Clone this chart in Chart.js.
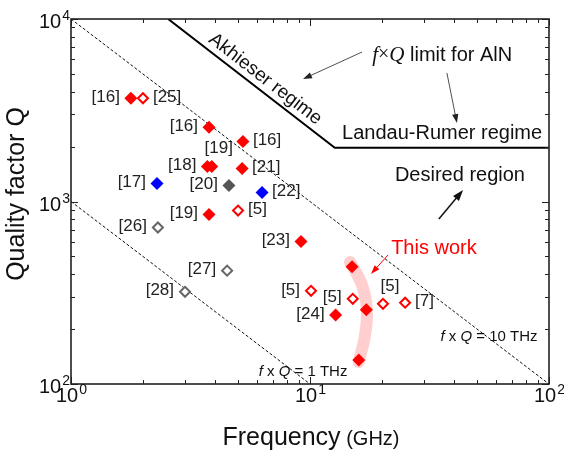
<!DOCTYPE html>
<html>
<head>
<meta charset="utf-8">
<script src="https://cdn.jsdelivr.net/npm/chart.js@4.4.1/dist/chart.umd.min.js"></script>
<style>
  body { margin: 0; background: #fff; }
</style>
</head>
<body>
<canvas id="qf" width="564" height="450"></canvas>
<script>
// ---- data (frequency in GHz, quality factor Q) ----
var redFreq = [1.78, 3.78, 5.24, 3.72, 3.88, 5.2, 3.78, 9.17, 12.8];
var redQ = [3680, 2550, 2130, 1557, 1557, 1518, 849, 603, 239];
var redRefs = ["[16]", "[16]", "[16]", "[18]", "[19]", "[21]", "[19]", "[23]", "[24]"];
var redSide = ["l", "l", "r", "l", "a", "r", "l", "l", "l"];

var openRedFreq = [2.0, 5.0, 10.1, 15.1, 20.2, 25.0];
var openRedQ = [3680, 892, 324, 293, 275, 279];
var openRedRefs = ["[25]", "[5]", "[5]", "[5]", "[5]", "[7]"];
var openRedSide = ["r", "r", "l", "l", "a", "r"];

var grayFreq = [4.58];
var grayQ = [1224];
var grayRefs = ["[20]"];
var graySide = ["l"];

var openGrayFreq = [2.31, 4.5, 3.0];
var openGrayQ = [720, 418, 320];
var openGrayRefs = ["[26]", "[27]", "[28]"];
var openGraySide = ["l", "l", "l"];

var blueFreq = [2.29, 6.3];
var blueQ = [1256, 1120];
var blueRefs = ["[17]", "[22]"];
var blueSide = ["l", "r"];

var thisWorkFreq = [15.0, 17.2, 16.0];
var thisWorkQ = [439, 255, 135.5];

// highlight band behind "this work"
var bandFreq = [14.7, 16.5, 17.3, 17.0, 16.0];
var bandQ = [466, 349, 254, 186, 132];

// f x Q guide lines and the AlN limit
var fq10Freq = [1, 100];
var fq10Q = [10000, 100];
var fq1Freq = [1, 10];
var fq1Q = [1000, 100];
var limitFreq = [2.55, 12.7, 100];
var limitQ = [10000, 1970, 1970];

var xDecades = [1, 10, 100];
var xTickLabels = ["0", "1", "2"];
var yDecades = [100, 1000, 10000];
var yTickLabels = ["2", "3", "4"];

function pts(fx, qy) {
    return fx.map(function(f, i) { return { x: f, y: qy[i] }; });
}

var RED = "#ff0000";
var GRAY = "#555555";
var BLUE = "#0000ff";
var ARIAL = "Arial, 'Liberation Sans', sans-serif";
var SERIF = "'Times New Roman', 'Liberation Serif', serif";

// label sides: l = left of marker, r = right, a = above
function drawRefLabels(chart) {
    var ctx = chart.ctx;
    ctx.save();
    ctx.font = "17px " + ARIAL;
    ctx.fillStyle = "#222";
    ctx.textBaseline = "middle";
    chart.data.datasets.forEach(function(ds, di) {
        if (!ds.refs) return;
        var meta = chart.getDatasetMeta(di);
        meta.data.forEach(function(el, i) {
            var side = ds.side[i];
            if (side === "l") {
                ctx.textAlign = "right";
                ctx.fillText(ds.refs[i], el.x - 11, el.y - 1);
            } else if (side === "r") {
                ctx.textAlign = "left";
                ctx.fillText(ds.refs[i], el.x + 10, el.y - 1);
            } else {
                ctx.textAlign = "center";
                ctx.fillText(ds.refs[i], el.x + 7, el.y - 18);
            }
        });
    });
    ctx.restore();
}

function drawRuns(ctx, runs, x, y, align) {
    var total = 0;
    runs.forEach(function(r) { ctx.font = r.font; r.w = ctx.measureText(r.text).width; total += r.w; });
    var cx = align === "center" ? x - total / 2 : x;
    ctx.textAlign = "left";
    runs.forEach(function(r) {
        ctx.font = r.font;
        ctx.fillStyle = r.color || "#111";
        ctx.fillText(r.text, cx, y);
        cx += r.w;
    });
}

function arrow(ctx, x1, y1, x2, y2, color, lw, head) {
    var a = Math.atan2(y2 - y1, x2 - x1);
    var c = Math.cos(a), s = Math.sin(a);
    ctx.save();
    ctx.strokeStyle = color;
    ctx.fillStyle = color;
    ctx.lineWidth = lw;
    ctx.beginPath();
    ctx.moveTo(x1, y1);
    ctx.lineTo(x2 - c * head * 0.8, y2 - s * head * 0.8);
    ctx.stroke();
    ctx.beginPath();
    ctx.moveTo(x2, y2);
    ctx.lineTo(x2 - head * c + head * 0.35 * s, y2 - head * s - head * 0.35 * c);
    ctx.lineTo(x2 - head * c - head * 0.35 * s, y2 - head * s + head * 0.35 * c);
    ctx.closePath();
    ctx.fill();
    ctx.restore();
}

// 10 with a raised exponent
function paintPow(ctx, exp, x, y, align) {
    ctx.font = "20px " + ARIAL;
    var wb = ctx.measureText("10").width;
    ctx.font = "14px " + ARIAL;
    var we = ctx.measureText(exp).width;
    var left = align === "center" ? x - (wb + we) / 2 : x - wb - we;
    ctx.textAlign = "left";
    ctx.font = "20px " + ARIAL;
    ctx.fillText("10", left, y);
    ctx.font = "14px " + ARIAL;
    ctx.fillText(exp, left + wb + 1, y - 8);
}

var annotations = {
    id: "annotations",
    afterDatasetsDraw: function(chart) {
        var ctx = chart.ctx;
        var xs = chart.scales.x, ys = chart.scales.y;
        function X(v) { return xs.getPixelForValue(v); }
        function Y(v) { return ys.getPixelForValue(v); }

        drawRefLabels(chart);

        ctx.save();
        ctx.textBaseline = "middle";

        // Akhieser regime, along the limit line
        var ang = Math.atan2(Y(limitQ[1]) - Y(limitQ[0]), X(limitFreq[1]) - X(limitFreq[0]));
        ctx.save();
        ctx.translate(X(6.35), Y(4500));
        ctx.rotate(ang);
        ctx.font = "19px " + ARIAL;
        ctx.fillStyle = "#111";
        ctx.textAlign = "center";
        ctx.fillText("Akhieser regime", 0, -4);
        ctx.restore();

        drawRuns(ctx, [
            { text: "f", font: "italic 21px " + SERIF },
            { text: "\u00d7", font: "20px " + SERIF },
            { text: "Q", font: "italic 21px " + SERIF },
            { text: " limit for AlN", font: "20px " + ARIAL }
        ], X(18.2), Y(6350), "left");
        arrow(ctx, X(16.5), Y(6590), X(9.35), Y(4690), "#222", 0.8, 9);
        arrow(ctx, X(37.4), Y(5060), X(41.2), Y(2690), "#222", 0.8, 9);

        ctx.font = "20px " + ARIAL;
        ctx.fillStyle = "#111";
        ctx.textAlign = "center";
        ctx.fillText("Landau-Rumer regime", X(35.7), Y(2373));
        ctx.fillText("Desired region", X(42.4), Y(1380));
        arrow(ctx, X(34.6), Y(802), X(43.7), Y(1156), "#111", 1.5, 11);

        ctx.fillStyle = RED;
        ctx.fillText("This work", X(33.0), Y(556));
        arrow(ctx, X(21.2), Y(509), X(18.0), Y(401), RED, 1, 9);

        drawRuns(ctx, [
            { text: "f", font: "italic 15px " + ARIAL },
            { text: " x ", font: "15px " + ARIAL },
            { text: "Q", font: "italic 15px " + ARIAL },
            { text: " = 10 THz", font: "15px " + ARIAL }
        ], X(56.1), Y(181), "center");
        drawRuns(ctx, [
            { text: "f", font: "italic 15px " + ARIAL },
            { text: " x ", font: "15px " + ARIAL },
            { text: "Q", font: "italic 15px " + ARIAL },
            { text: " = 1 THz", font: "15px " + ARIAL }
        ], X(9.35), Y(116.4), "center");
        ctx.restore();
    }
};

var frame = {
    id: "frame",
    afterDraw: function(chart) {
        var ctx = chart.ctx;
        var a = chart.chartArea;
        var xs = chart.scales.x, ys = chart.scales.y;
        ctx.save();
        ctx.strokeStyle = "#222";
        ctx.lineWidth = 1;
        // minor/major ticks, inward, on all four sides
        function eachTick(min, max, fn) {
            for (var d = min; d < max; d *= 10) {
                for (var m = 1; m < 10; m++) fn(d * m, m === 1);
            }
            fn(max, true);
        }
        ctx.beginPath();
        eachTick(1, 100, function(v, major) {
            var px = Math.round(xs.getPixelForValue(v)) + 0.5, len = major ? 7 : 4;
            ctx.moveTo(px, a.bottom); ctx.lineTo(px, a.bottom - len);
            ctx.moveTo(px, a.top); ctx.lineTo(px, a.top + len);
        });
        eachTick(100, 10000, function(v, major) {
            var py = Math.round(ys.getPixelForValue(v)) + 0.5, len = major ? 7 : 4;
            ctx.moveTo(a.left, py); ctx.lineTo(a.left + len, py);
            ctx.moveTo(a.right, py); ctx.lineTo(a.right - len, py);
        });
        ctx.stroke();
        ctx.lineWidth = 1.6;
        ctx.strokeRect(a.left, a.top, a.right - a.left, a.bottom - a.top);

        ctx.fillStyle = "#111";
        ctx.textBaseline = "alphabetic";
        xDecades.forEach(function(v, i) {
            paintPow(ctx, xTickLabels[i], xs.getPixelForValue(v), a.bottom + 18, "center");
        });
        yDecades.forEach(function(v, i) {
            paintPow(ctx, yTickLabels[i], a.left - 2, ys.getPixelForValue(v) + 9, "right");
        });

        // axis titles
        drawRuns(ctx, [
            { text: "Frequency", font: "25px " + ARIAL },
            { text: " (GHz)", font: "20px " + ARIAL }
        ], (a.left + a.right) / 2 + 1, 445, "center");
        ctx.save();
        ctx.translate(24, 194);
        ctx.rotate(-Math.PI / 2);
        ctx.font = "25px " + ARIAL;
        ctx.fillStyle = "#111";
        ctx.textAlign = "center";
        ctx.fillText("Quality factor Q", 0, 0);
        ctx.restore();
        ctx.restore();
    }
};

function markers(data, bg, border, bw, radius, order) {
    return {
        data: data,
        pointStyle: "rectRot",
        pointRadius: radius,
        pointHoverRadius: radius,
        backgroundColor: bg,
        borderColor: border,
        pointBorderWidth: bw,
        order: order
    };
}

var band = {
    type: "line",
    data: pts(bandFreq, bandQ),
    showLine: true,
    borderColor: "rgba(255, 110, 110, 0.33)",
    borderWidth: 12,
    borderCapStyle: "round",
    tension: 0.4,
    pointRadius: 0,
    fill: false,
    order: 9
};
var fq10 = { type: "line", data: pts(fq10Freq, fq10Q), showLine: true, borderColor: "#111", borderWidth: 1, borderDash: [3, 2], pointRadius: 0, order: 8 };
var fq1 = { type: "line", data: pts(fq1Freq, fq1Q), showLine: true, borderColor: "#111", borderWidth: 1, borderDash: [3, 2], pointRadius: 0, order: 8 };
var limit = { type: "line", data: pts(limitFreq, limitQ), showLine: true, borderColor: "#000", borderWidth: 2, pointRadius: 0, tension: 0, order: 8 };

var red = markers(pts(redFreq, redQ), RED, RED, 0, 6.5, 1);
red.refs = redRefs; red.side = redSide;
var openRed = markers(pts(openRedFreq, openRedQ), "#fff", RED, 2, 5, 1);
openRed.refs = openRedRefs; openRed.side = openRedSide;
var gray = markers(pts(grayFreq, grayQ), GRAY, GRAY, 0, 6.5, 1);
gray.refs = grayRefs; gray.side = graySide;
var openGray = markers(pts(openGrayFreq, openGrayQ), "#fff", "#666", 2, 5, 1);
openGray.refs = openGrayRefs; openGray.side = openGraySide;
var blue = markers(pts(blueFreq, blueQ), BLUE, BLUE, 0, 6.5, 1);
blue.refs = blueRefs; blue.side = blueSide;
var thisWork = markers(pts(thisWorkFreq, thisWorkQ), RED, RED, 0, 6.5, 0);

var chart = new Chart(document.getElementById("qf"), {
    type: "scatter",
    data: { datasets: [band, fq10, fq1, limit, red, openRed, gray, openGray, blue, thisWork] },
    options: {
        responsive: false,
        animation: false,
        events: [],
        layout: { autoPadding: false, padding: { top: 19, right: 15, left: 0, bottom: 0 } },
        plugins: { legend: { display: false }, tooltip: { enabled: false } },
        scales: {
            x: {
                type: "logarithmic",
                min: 1,
                max: 100,
                grid: { display: false },
                border: { display: false },
                ticks: { display: false },
                afterFit: function(s) { s.height = 66; }
            },
            y: {
                type: "logarithmic",
                min: 100,
                max: 10000,
                grid: { display: false },
                border: { display: false },
                ticks: { display: false },
                afterFit: function(s) { s.width = 71; }
            }
        }
    },
    plugins: [annotations, frame]
});
</script>
</body>
</html>
